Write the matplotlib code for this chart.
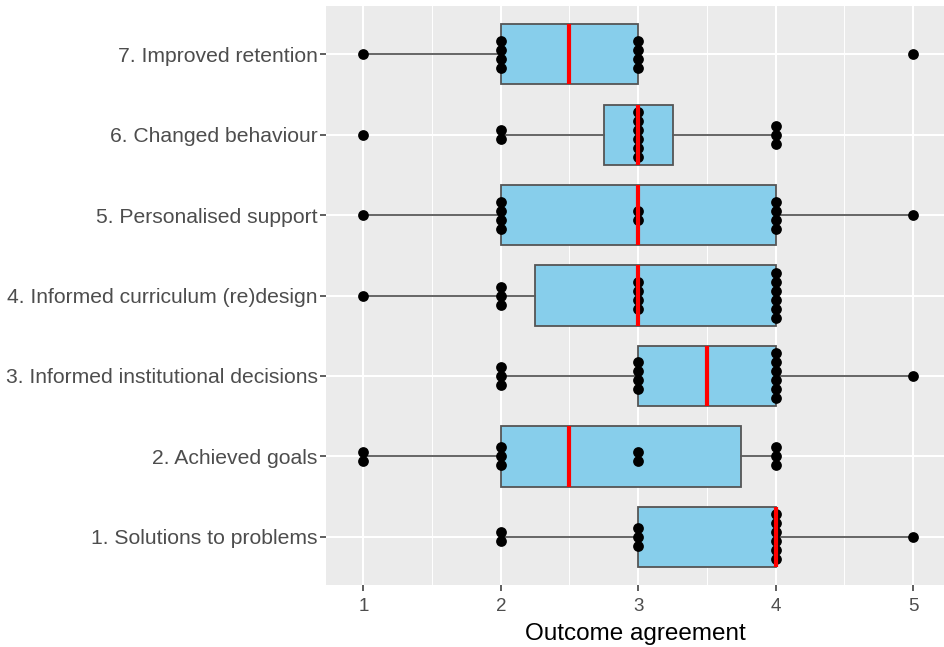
import numpy as np
import matplotlib
matplotlib.use("Agg")
import matplotlib.pyplot as plt

plt.rcParams['font.family'] = ['Liberation Sans', 'DejaVu Sans']

# outcome labels, bottom to top
outcomes = ["1. Solutions to problems", "2. Achieved goals",
            "3. Informed institutional decisions", "4. Informed curriculum (re)design",
            "5. Personalised support", "6. Changed behaviour", "7. Improved retention"]

# individual agreement ratings (1-5) per outcome
solutions = [2, 2, 3, 3, 3, 4, 4, 4, 4, 4, 4, 5]
goals = [1, 1, 2, 2, 2, 3, 3, 4, 4, 4]
institutional = [2, 2, 2, 3, 3, 3, 3, 4, 4, 4, 4, 4, 4, 5]
curriculum = [1, 2, 2, 2, 3, 3, 3, 3, 4, 4, 4, 4, 4, 4]
personalised = [1, 2, 2, 2, 2, 3, 3, 4, 4, 4, 4, 5]
behaviour = [1, 2, 2, 3, 3, 3, 3, 3, 3, 4, 4, 4]
retention = [1, 2, 2, 2, 2, 3, 3, 3, 3, 5]

data = [solutions, goals, institutional, curriculum, personalised, behaviour, retention]
ticks = [1, 2, 3, 4, 5]

fig = plt.figure(figsize=(9.45, 6.47), dpi=100)
ax = fig.add_axes([0.345, 0.0958, 0.655, 0.8949])
ax.set_facecolor("#EBEBEB")
pos = np.arange(1, len(outcomes) + 1)

ax.boxplot(data, positions=pos, orientation="horizontal", widths=0.75,
           patch_artist=True, showfliers=False, showcaps=False, whis=1.5,
           boxprops=dict(facecolor="#87CEEB", edgecolor="#555555", linewidth=1.3, zorder=3),
           whiskerprops=dict(color="#595959", linewidth=1.3, zorder=3),
           medianprops=dict(color="red", linewidth=3, zorder=6, solid_capstyle="butt"))

# stacked dots, centred on each row
step = 0.112
for y, vals in zip(pos, data):
    v, c = np.unique(vals, return_counts=True)
    for x, n in zip(v, c):
        off = (np.arange(n) - (n - 1) / 2) * step
        ax.scatter(np.full(n, x), y + off, s=60, color="black", zorder=5, linewidths=0)

ax.set_xlim(0.728, 5.233)
ax.set_ylim(0.4, 7.6)
ax.set_xticks(ticks)
ax.set_xticks([1.5, 2.5, 3.5, 4.5], minor=True)
ax.set_yticks(pos)
ax.set_yticklabels(outcomes)
ax.grid(which="major", color="white", linewidth=1.5, zorder=0)
ax.grid(which="minor", axis="x", color="white", linewidth=0.7, zorder=0)
ax.set_axisbelow(True)
for s in ax.spines.values():
    s.set_visible(False)
ax.tick_params(axis="both", which="major", length=4, width=1.1, color="#333333",
               labelcolor="#4D4D4D", labelsize=13.5, pad=2)
ax.tick_params(axis="x", pad=5)
ax.tick_params(axis="y", labelsize=15.2)
ax.tick_params(which="minor", length=0)
ax.set_xlabel("Outcome agreement", fontsize=17.5, color="black", labelpad=6)

fig.savefig("out.png", dpi=100)
